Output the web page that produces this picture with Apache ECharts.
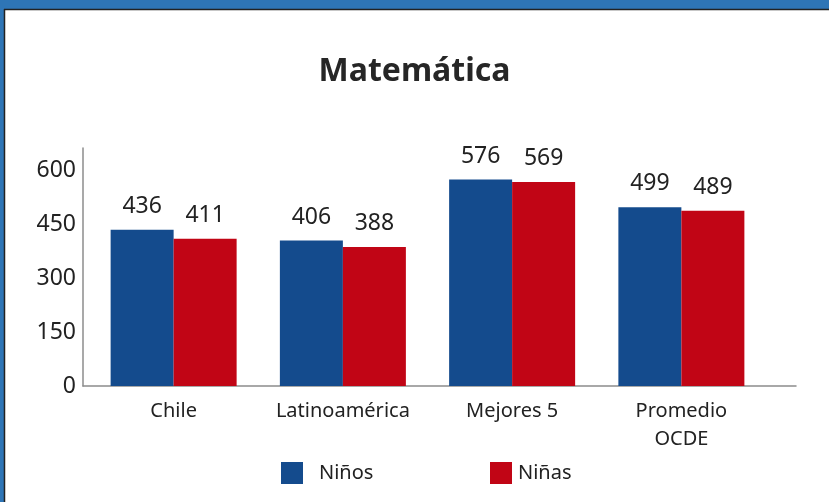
<!DOCTYPE html>
<html>
<head>
<meta charset="utf-8">
<script src="https://cdn.jsdelivr.net/npm/echarts@6/dist/echarts.min.js"></script>
<style>
  html, body { margin: 0; padding: 0; background: #fff; }
  #chart { width: 829px; height: 502px; }
</style>
</head>
<body>
<div id="chart"></div>
<script>
const categories = ['Chile', 'Latinoamérica', 'Mejores 5', 'Promedio\nOCDE'];
const ninos = [436, 406, 576, 499];
const ninas = [411, 388, 569, 489];
const yMax = 664;

const chart = echarts.init(document.getElementById('chart'));
const font = 'Noto Sans';
const blue = '#144b8d';
const red = '#c10515';
const frame = '#2e75b6';

var option = {
  animation: false,
  textStyle: { fontFamily: font },
  title: {
    text: 'Matemática',
    left: 'center',
    top: 51,
    textStyle: { fontSize: 32, fontWeight: 'bold', color: '#262626', fontFamily: font }
  },
  graphic: [
    { type: 'rect', shape: { x: 0, y: 0, width: 829, height: 9 }, style: { fill: frame }, z: 0 },
    { type: 'rect', shape: { x: 0, y: 0, width: 4, height: 502 }, style: { fill: frame }, z: 0 },
    { type: 'line', shape: { x1: 4, y1: 9.5, x2: 829, y2: 9.5 }, style: { stroke: '#222', lineWidth: 1.5 } },
    { type: 'line', shape: { x1: 4.5, y1: 9, x2: 4.5, y2: 502 }, style: { stroke: '#222', lineWidth: 1.5 } }
  ],
  legend: [{
    data: ['Niños'],
    left: 276,
    top: 457,
    itemWidth: 22,
    itemHeight: 22,
    icon: 'rect',
    textStyle: { fontSize: 20, color: '#222', padding: [0, 0, 0, 11] }
  }, {
    data: ['Niñas'],
    left: 485,
    top: 457,
    itemWidth: 22,
    itemHeight: 22,
    icon: 'rect',
    textStyle: { fontSize: 20, color: '#222', padding: [0, 0, 0, 1] }
  }],
  grid: [
    { left: 83, right: 33, top: 148, bottom: 116 },
    { left: 89, right: 63, top: 148, bottom: 116 }
  ],
  xAxis: [{
    type: 'category',
    gridIndex: 0,
    data: categories,
    axisLine: { lineStyle: { color: '#8c8c8c', width: 1.5 } },
    axisTick: { show: false },
    axisLabel: { show: false }
  }, {
    type: 'category',
    gridIndex: 1,
    data: categories,
    axisLine: { show: false },
    axisTick: { show: false },
    axisLabel: { interval: 0, fontSize: 20, color: '#222', margin: 11, lineHeight: 28 }
  }],
  yAxis: [{
    type: 'value',
    gridIndex: 0,
    min: 0,
    max: yMax,
    interval: 150,
    axisLine: { show: true, lineStyle: { color: '#8c8c8c', width: 1.5 } },
    axisTick: { show: false },
    splitLine: { show: false },
    axisLabel: {
      fontSize: 23, color: '#222', margin: 7, showMaxLabel: false,
      formatter: function (v) { return v % 150 === 0 ? v : ''; }
    }
  }, {
    type: 'value',
    gridIndex: 1,
    min: 0,
    max: yMax,
    show: false
  }],
  series: [{
    name: 'Niños',
    type: 'bar',
    xAxisIndex: 1,
    yAxisIndex: 1,
    data: ninos,
    barWidth: 63,
    barGap: '0%',
    itemStyle: { color: blue },
    label: { show: true, position: 'top', distance: 12, fontSize: 23, color: '#222' }
  }, {
    name: 'Niñas',
    type: 'bar',
    xAxisIndex: 1,
    yAxisIndex: 1,
    data: ninas,
    barWidth: 63,
    barGap: '0%',
    itemStyle: { color: red },
    label: { show: true, position: 'top', distance: 12, fontSize: 23, color: '#222' }
  }]
};

chart.setOption(option);
</script>
</body>
</html>
